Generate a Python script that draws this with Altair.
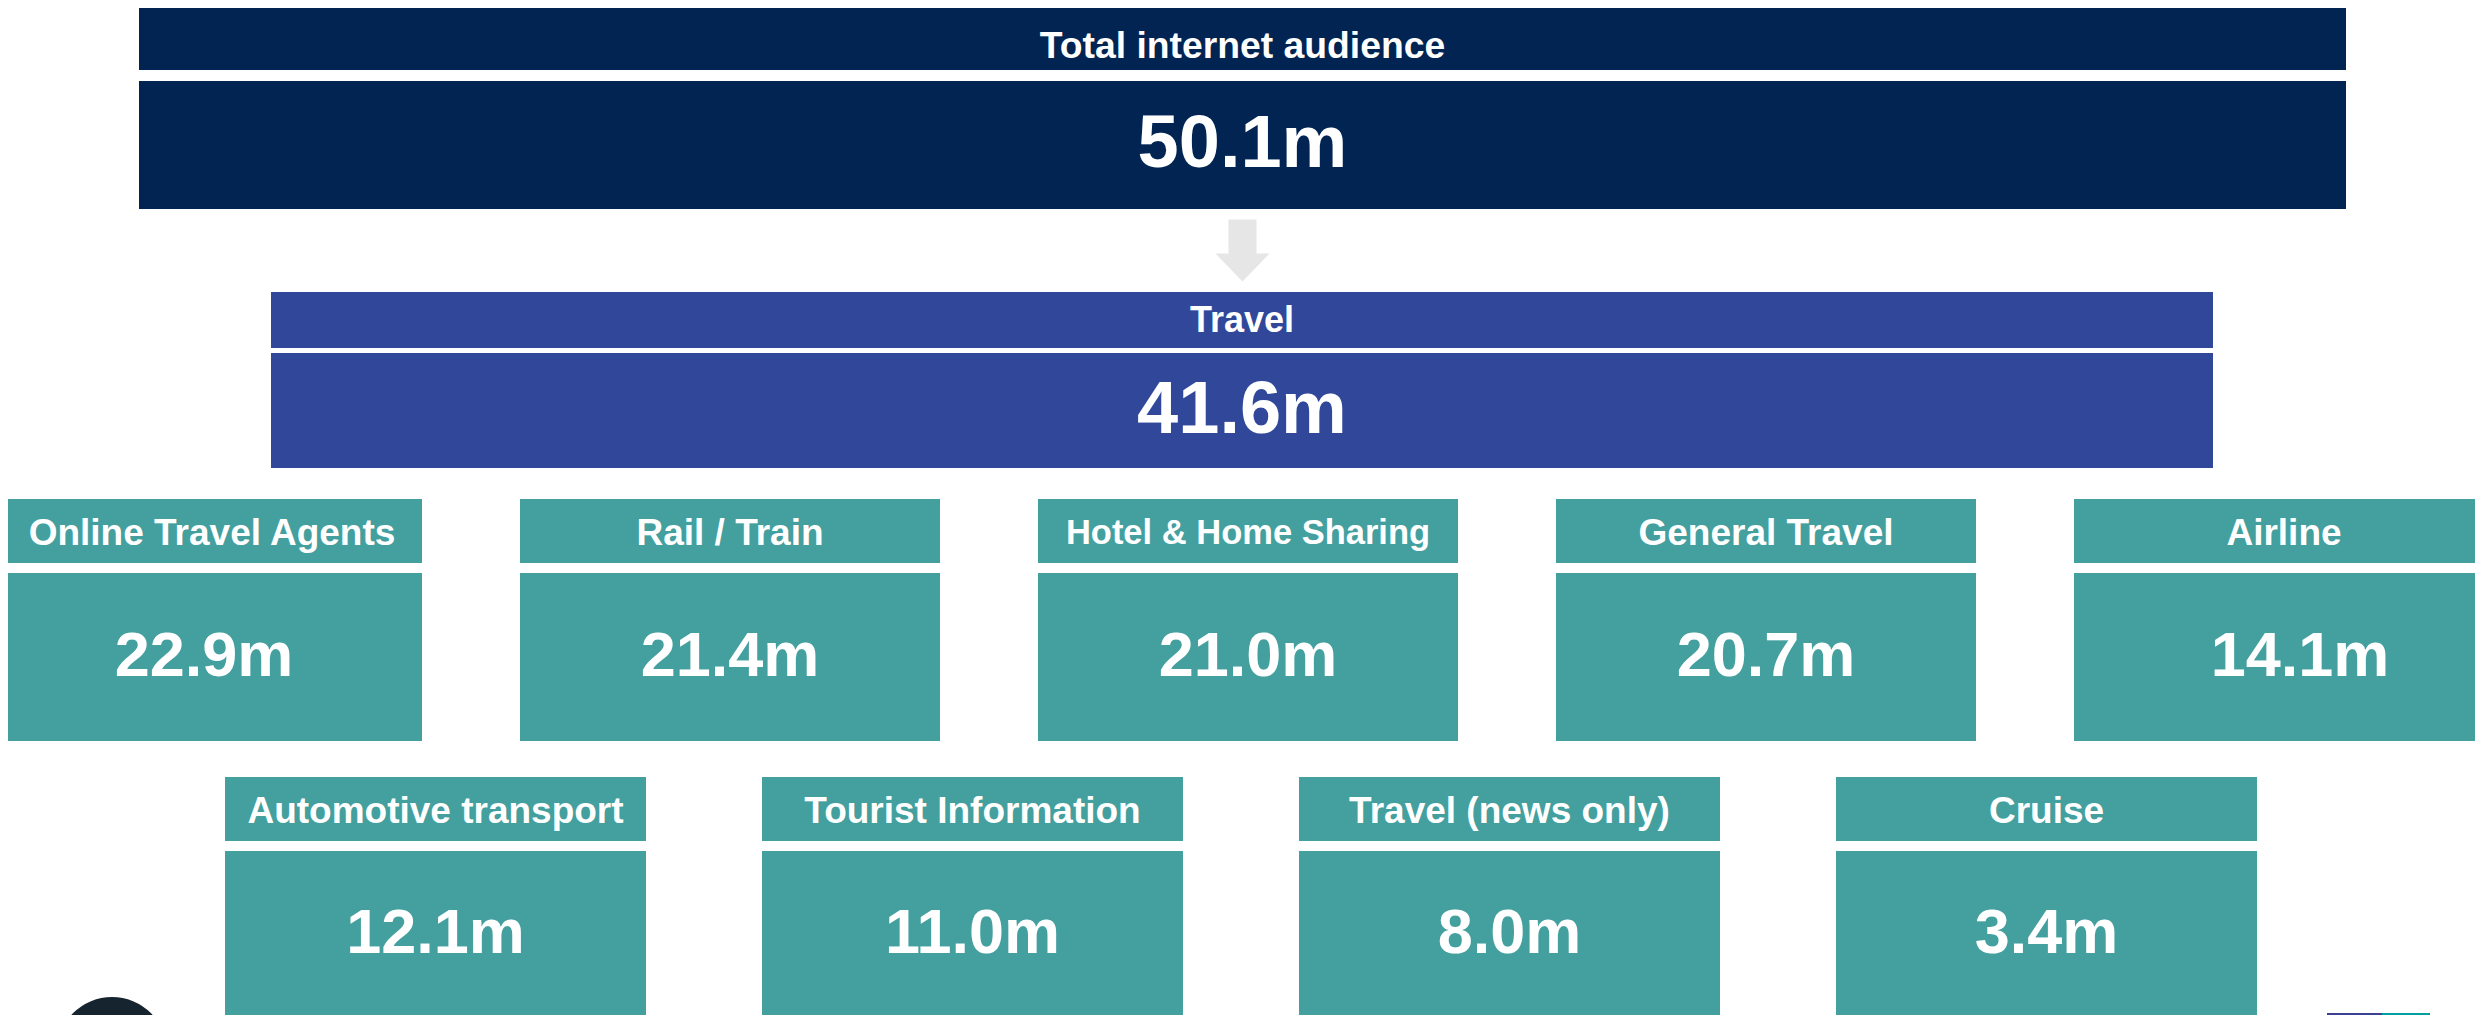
import altair as alt
import pandas as pd

# ---------------- data ----------------
top_labels = ["Total internet audience", "Travel"]
top_values = [50.1, 41.6]

cat_labels = [
    "Online Travel Agents", "Rail / Train", "Hotel & Home Sharing", "General Travel", "Airline",
    "Automotive transport", "Tourist Information", "Travel (news only)", "Cruise",
]
cat_values = [22.9, 21.4, 21.0, 20.7, 14.1, 12.1, 11.0, 8.0, 3.4]

# ---------------- layout (page pixels) ----------------
PAGE_W, PAGE_H = 2483, 1023
M = 8                      # page margin
W = PAGE_W - 2 * M
H = PAGE_H - 2 * M

NAVY = "#012453"
BLUE = "#30479A"
TEAL = "#43A09F"
ARROW = "#E6E6E6"
FONT = "Liberation Sans"

tiers = [
    dict(x0=139, x1=2346, hy0=8, hy1=70, vy0=81, vy1=209, color=NAVY, hfs=37.3, vfs=74, hoff=6),
    dict(x0=271, x1=2213, hy0=292, hy1=348, vy0=353, vy1=468, color=BLUE, hfs=36, vfs=74, hoff=-1),
]
rows = [
    dict(n=5, left=2, step=518, w=420, hy0=499, hy1=563, vy0=573, vy1=741),
    dict(n=4, left=225, step=537, w=421, hy0=777, hy1=841, vy0=851, vy1=1018),
]
CAT_HFS, CAT_VFS, CAT_HOFF = 37, 63, 1
# per-box style tweaks seen in the reference
header_fs_override = {"Hotel & Home Sharing": 34.5}
value_dx = {"Online Travel Agents": -8, "Airline": 16}
box_extra_w = {"Airline": 40}   # last box runs off the right edge

rects, texts = [], []


def add_box(x0, x1, hy0, hy1, vy0, vy1, color, label, value, hfs, vfs, hoff, vdx=0, xw=0):
    rects.append(dict(x=x0, x2=x1 + xw, y=hy0, y2=hy1, fill=color))
    rects.append(dict(x=x0, x2=x1 + xw, y=vy0, y2=vy1, fill=color))
    cx = (x0 + x1) / 2
    texts.append(dict(x=cx, y=(hy0 + hy1) / 2 + hoff + 0.358 * hfs, text=label, fs=hfs))
    texts.append(dict(x=cx + vdx, y=(vy0 + vy1) / 2 - 4 + 0.358 * vfs,
                      text=f"{value:.1f}m", fs=vfs))


for t, lab, val in zip(tiers, top_labels, top_values):
    add_box(t["x0"], t["x1"], t["hy0"], t["hy1"], t["vy0"], t["vy1"], t["color"],
            lab, val, t["hfs"], t["vfs"], t["hoff"])

k = 0
for r in rows:
    for i in range(r["n"]):
        x0 = r["left"] + i * r["step"]
        lab = cat_labels[k]
        add_box(x0, x0 + r["w"], r["hy0"], r["hy1"], r["vy0"], r["vy1"], TEAL,
                lab, cat_values[k], header_fs_override.get(lab, CAT_HFS), CAT_VFS, CAT_HOFF,
                value_dx.get(lab, 0), box_extra_w.get(lab, 0))
        k += 1

# decorative logo fragments at the bottom edge
rects.append(dict(x=2327, x2=2382, y=1013, y2=1023, fill="#3C4196"))
rects.append(dict(x=2382, x2=2430, y=1013, y2=1023, fill="#00A0A0"))

rect_df = pd.DataFrame(rects)
text_df = pd.DataFrame(texts)

arrow_df = pd.DataFrame([dict(x=(tiers[0]["x0"] + tiers[0]["x1"]) / 2,
                              y=(tiers[0]["vy1"] + tiers[1]["hy0"]) / 2)])
circle_df = pd.DataFrame([dict(x=112, y=1052)])

xs = alt.Scale(domain=[M, M + W], nice=False, zero=False)
ys = alt.Scale(domain=[M, M + H], nice=False, zero=False, reverse=True)

boxes = alt.Chart(rect_df).mark_rect().encode(
    x=alt.X("x:Q", scale=xs, axis=None),
    x2="x2:Q",
    y=alt.Y("y:Q", scale=ys, axis=None),
    y2="y2:Q",
    color=alt.Color("fill:N", scale=None),
)

labels = alt.Chart(text_df).mark_text(
    font=FONT, fontWeight="bold", color="white", align="center", baseline="alphabetic"
).encode(
    x=alt.X("x:Q", scale=xs, axis=None),
    y=alt.Y("y:Q", scale=ys, axis=None),
    text="text:N",
    size=alt.Size("fs:Q", scale=None),
)

ARROW_PATH = ("M-0.5185,-1.148L0.5185,-1.148L0.5185,0.111L1,0.111"
              "L0,1.148L-1,0.111L-0.5185,0.111Z")
arrow = alt.Chart(arrow_df).mark_point(
    shape=ARROW_PATH, filled=True, color=ARROW, opacity=1, size=54 * 54, strokeWidth=0
).encode(
    x=alt.X("x:Q", scale=xs, axis=None),
    y=alt.Y("y:Q", scale=ys, axis=None),
)

logo = alt.Chart(circle_df).mark_point(
    shape="circle", filled=True, color="#16242F", opacity=1, size=110 * 110, strokeWidth=0
).encode(
    x=alt.X("x:Q", scale=xs, axis=None),
    y=alt.Y("y:Q", scale=ys, axis=None),
)

chart = alt.layer(boxes, arrow, logo, labels).properties(
    width=W, height=H, padding=0, background="white",
    autosize=alt.AutoSizeParams(type="none"),
).configure_view(stroke=None)

chart.save("out.html", embed_options={"renderer": "svg", "actions": False})
